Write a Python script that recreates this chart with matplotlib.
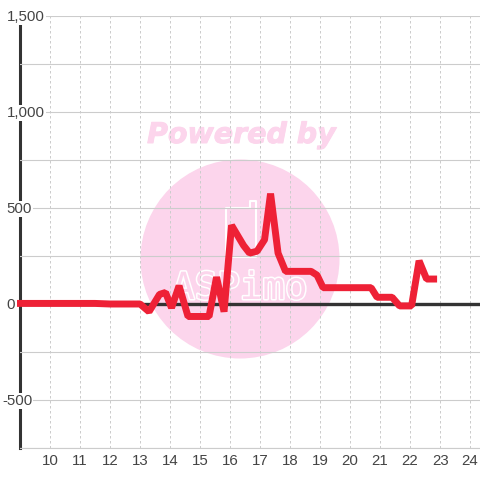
"""Line chart with a pink watermark behind it."""
import matplotlib
matplotlib.use('Agg')
import matplotlib.pyplot as plt
import matplotlib.patheffects as pe
from matplotlib.patches import Circle

hours = [8.9, 11.5, 12, 13, 13.3, 13.65, 13.85, 14.05, 14.3, 14.6, 15.3, 15.55,
         15.8, 16.05, 16.45, 16.65, 16.9, 17.15, 17.35, 17.6, 17.85, 18.7,
         18.9, 19.1, 20.7, 20.9, 21.4, 21.65, 22.05, 22.3, 22.55, 22.9]
values = [3, 3, 0, 0, -40, 50, 60, -20, 95, -65, -65, 140,
          -40, 410, 305, 265, 275, 335, 575, 265, 170, 170,
          150, 85, 85, 35, 35, -10, -10, 225, 130, 130]

x_ticks = list(range(10, 25))
y_ticks = [-500, 0, 500, 1000, 1500]
y_grid = [-750, -500, -250, 0, 250, 500, 750, 1000, 1250, 1500]

TEXT = '#444444'
GRID = '#cccccc'
PINK = '#fcd5ec'

plt.rcParams['font.family'] = ['Liberation Sans', 'DejaVu Sans']

fig = plt.figure(figsize=(4.8, 4.8), dpi=100)

# watermark sits in its own pixel-space axes under the chart
bg = fig.add_axes([0, 0, 1, 1], zorder=0)
bg.set_xlim(0, 480)
bg.set_ylim(480, 0)
bg.axis('off')
bg.add_patch(Circle((240, 259), 99.5, fc=PINK, ec='none'))
bg.text(241.5, 135, 'Powered by', color=PINK, fontsize=20.5, family='DejaVu Sans',
        weight='bold', style='italic', ha='center', va='center',
        path_effects=[pe.withStroke(linewidth=0.7, foreground=PINK)])
bg.plot([250, 226, 226, 256, 256, 250, 250], [208, 208, 257, 257, 201, 201, 208],
        color='white', lw=1.5)
bg.text(240, 289, 'ASPimo', color=PINK, fontsize=27, family='DejaVu Sans Mono',
        ha='center', va='center',
        path_effects=[pe.withStroke(linewidth=2.2, foreground='white')])

ax = fig.add_axes([20 / 480, 32 / 480, 460 / 480, 432 / 480], zorder=1)
ax.patch.set_alpha(0)
ax.set_xlim(9, 24.33)
ax.set_ylim(-750, 1500)

for s in ['top', 'right']:
    ax.spines[s].set_visible(False)
ax.spines['bottom'].set_color(GRID)
ax.spines['bottom'].set_linewidth(0.8)
ax.spines['left'].set_color('#333333')
ax.spines['left'].set_linewidth(2.2)
ax.spines['left'].set_zorder(0.4)

ax.set_xticks(x_ticks)
ax.set_yticks(y_grid)
ax.set_yticklabels([])
ax.tick_params(length=0)
ax.tick_params(axis='x', pad=4, labelsize=10.8, labelcolor=TEXT)

# y labels start left of the axis and cover it with a white box
for v in y_ticks:
    ax.annotate(f'{v:,}', xy=(0, v), xycoords=('axes fraction', 'data'),
                xytext=(-13 if v < 0 else -9.5, -1), textcoords='offset points',
                ha='left', va='center', fontsize=10.8, color=TEXT, zorder=1,
                bbox=dict(fc='white', ec='none', pad=0.8))

ax.grid(axis='y', color=GRID, lw=0.8)
ax.grid(axis='x', color=GRID, lw=0.72, ls=(0, (2.5, 2.5)))
ax.set_axisbelow(True)

ax.axhline(0, color='#333333', lw=2.4, zorder=2)
ax.plot(hours, values, color='#ee2136', lw=5, solid_joinstyle='bevel',
        solid_capstyle='butt', clip_on=False, zorder=3)

fig.savefig('out.png', dpi=100)
plt.close(fig)
